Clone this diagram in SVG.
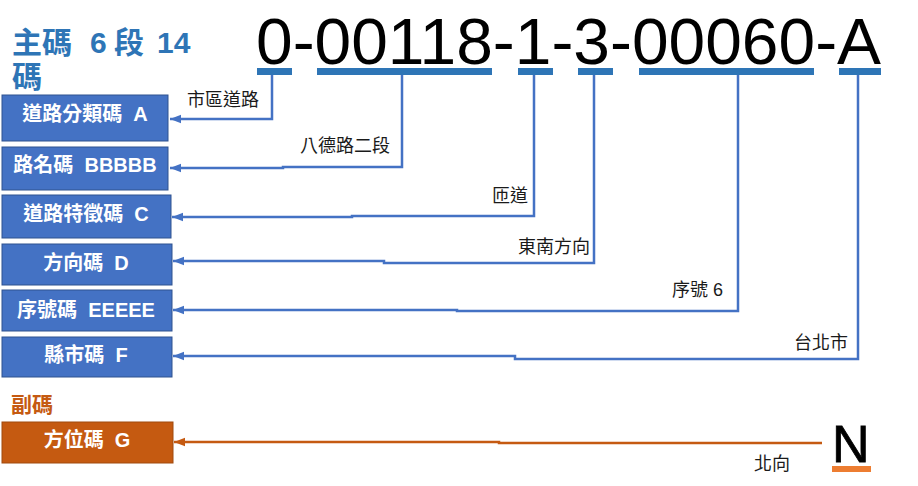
<svg xmlns="http://www.w3.org/2000/svg" width="918" height="486" viewBox="0 0 918 486">
<style>
.box{fill:#4472C4;stroke:#2F528F;stroke-width:1}
.obox{fill:#C55A11;stroke:#A04A0E;stroke-width:1}
.bt{font-family:"Liberation Sans","Noto Sans CJK TC",sans-serif;font-size:20px;font-weight:700;fill:#fff;text-anchor:middle}
.lbl{font-family:"Liberation Sans","Noto Sans CJK TC",sans-serif;font-size:18px;fill:#1a1a1a;text-anchor:end}
.conn{fill:none;stroke:#4472C4;stroke-width:2.5}
.oconn{fill:none;stroke:#C55A11;stroke-width:2.5}
.bar{fill:#2E75B6}
</style>
<defs>
<marker id="ah" markerUnits="userSpaceOnUse" markerWidth="12" markerHeight="10" refX="11" refY="5" orient="auto" viewBox="0 0 12 10">
<path d="M0,0.8 L11,5 L0,9.2 Z" fill="#4472C4"/>
</marker>
<marker id="aho" markerUnits="userSpaceOnUse" markerWidth="12" markerHeight="10" refX="11" refY="5" orient="auto" viewBox="0 0 12 10">
<path d="M0,0.8 L11,5 L0,9.2 Z" fill="#C55A11"/>
</marker>
</defs>
<rect width="918" height="486" fill="#fff"/>

<g id="title">
<text font-family="'Liberation Sans','Noto Sans CJK TC',sans-serif" font-size="30" font-weight="700" fill="#2E75B6"><tspan x="12" y="53">主碼</tspan><tspan x="90" y="53">6</tspan><tspan x="114" y="53">段</tspan><tspan x="157" y="53">14</tspan><tspan x="12" y="87">碼</tspan></text>
</g>

<g id="code">
<text x="256" y="64" font-family="'Liberation Sans',sans-serif" font-size="64" fill="#000" textLength="625" lengthAdjust="spacingAndGlyphs">0-00118-1-3-00060-A</text>
<rect class="bar" x="257" y="68" width="35" height="7"/>
<rect class="bar" x="317" y="68" width="175" height="7"/>
<rect class="bar" x="518" y="68" width="35" height="7"/>
<rect class="bar" x="578" y="68" width="35" height="7"/>
<rect class="bar" x="639" y="68" width="175" height="7"/>
<rect class="bar" x="839" y="68" width="42" height="7"/>
</g>

<g id="boxA"><rect class="box" x="2" y="95" width="166" height="46"/><text class="bt" x="85" y="121">道路分類碼 &#160;A</text></g>
<g id="boxB"><rect class="box" x="2" y="147" width="166" height="43"/><text class="bt" x="85" y="171.5">路名碼 &#160;BBBBB</text></g>
<g id="boxC"><rect class="box" x="2" y="195" width="169" height="43"/><text class="bt" x="86" y="220.5">道路特徵碼 &#160;C</text></g>
<g id="boxD"><rect class="box" x="2" y="244" width="170" height="41"/><text class="bt" x="86" y="270">方向碼 &#160;D</text></g>
<g id="boxE"><rect class="box" x="2" y="290" width="170" height="41"/><text class="bt" x="86" y="317">序號碼 &#160;EEEEE</text></g>
<g id="boxF"><rect class="box" x="2" y="337" width="170" height="40"/><text class="bt" x="86" y="361.5">縣市碼 &#160;F</text></g>

<g id="subtitle">
<text x="11" y="412" font-family="'Liberation Sans','Noto Sans CJK TC',sans-serif" font-size="21" font-weight="700" fill="#C55A11">副碼</text>
</g>
<g id="boxG"><rect class="obox" x="2" y="422" width="171" height="41"/><text class="bt" x="87" y="447">方位碼 &#160;G</text></g>

<g id="N">
<text x="832" y="462" font-family="'Liberation Sans',sans-serif" font-size="52" fill="#000" stroke="#000" stroke-width="0.8">N</text>
<rect x="832" y="466" width="39" height="6" fill="#ED7D31"/>
</g>

<g id="connectors">
<path class="conn" d="M272,75 V119 H170" marker-end="url(#ah)"/>
<path class="conn" d="M402,75 V167 H283 V168 H170" marker-end="url(#ah)"/>
<path class="conn" d="M534,75 V216 H352 V217 H172" marker-end="url(#ah)"/>
<path class="conn" d="M594,75 V263 H384 V261 H173" marker-end="url(#ah)"/>
<path class="conn" d="M738,75 V311 H457 V310 H173" marker-end="url(#ah)"/>
<path class="conn" d="M858,75 V359 H515 V356 H173" marker-end="url(#ah)"/>
<path class="oconn" d="M822,443 H499 V442 H174" marker-end="url(#aho)"/>
</g>

<g id="labels">
<text class="lbl" x="259" y="105.5">市區道路</text>
<text class="lbl" x="390" y="151.5">八德路二段</text>
<text class="lbl" x="528" y="202">匝道</text>
<text class="lbl" x="590" y="253">東南方向</text>
<text class="lbl" x="723" y="296">序號 6</text>
<text class="lbl" x="848" y="348.5">台北市</text>
<text class="lbl" x="790" y="470">北向</text>
</g>
</svg>
